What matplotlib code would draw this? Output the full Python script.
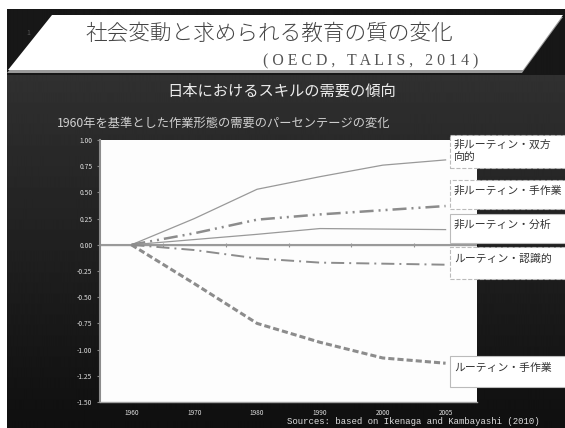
import matplotlib
matplotlib.use("Agg")
import matplotlib.pyplot as plt
import numpy as np
from matplotlib.patches import Polygon, Rectangle

plt.rcParams['font.family'] = ['Noto Sans CJK JP', 'DejaVu Sans']

# ---- data ----
years = ['1960', '1970', '1980', '1990', '2000', '2005']
series_names = ['非ルーティン・双方\n向的', '非ルーティン・手作業', '非ルーティン・分析',
                'ルーティン・認識的', 'ルーティン・手作業']
nr_interactive = [0.0, 0.25, 0.53, 0.65, 0.76, 0.81]
nr_manual = [0.0, 0.11, 0.24, 0.29, 0.33, 0.37]
nr_analytic = [0.0, 0.05, 0.10, 0.155, 0.15, 0.145]
r_cognitive = [0.0, -0.05, -0.13, -0.17, -0.18, -0.19]
r_manual = [0.0, -0.37, -0.75, -0.93, -1.08, -1.13]
yticks = [1.00, 0.75, 0.50, 0.25, 0.00, -0.25, -0.50, -0.75, -1.00, -1.25, -1.50]

title = '社会変動と求められる教育の質の変化'
title_src = '( O E C D ,   T A L I S ,   2 0 1 4 )'
subtitle = '日本におけるスキルの需要の傾向'
axis_note = '1960年を基準とした作業形態の需要のパーセンテージの変化'
source = 'Sources: based on Ikenaga and Kambayashi (2010)'

W, H = 565, 428
fig = plt.figure(figsize=(W / 100, H / 100), dpi=100)

def fx(px):
    return px / W

def fy(py):
    return 1 - py / H

# ---- background ----
bg = fig.add_axes([0, 0, 1, 1], zorder=-10)
bg.set_axis_off()
rows = np.linspace(0, 1, H)
col = np.where(rows * H < 75, 0.09,
               0.19 - (rows * H - 75) / (H - 75) * 0.13)
img = np.repeat(col[:, None], 10, axis=1)
bg.imshow(img, cmap='gray', vmin=0, vmax=1, aspect='auto',
          extent=[0, 1, 0, 1], origin='upper')
bg.set_xlim(0, 1)
bg.set_ylim(0, 1)
# white margins
bg.add_patch(Rectangle((0, fy(9)), 1, 1, facecolor='white', edgecolor='none'))
bg.add_patch(Rectangle((0, 0), fx(7), 1, facecolor='white', edgecolor='none'))
# banner shadow and banner
shadow = [(fx(52), fy(17)), (fx(563), fy(17)), (fx(522), fy(73)), (fx(7), fy(73))]
bg.add_patch(Polygon(shadow, closed=True, facecolor='#9a9a9a', edgecolor='none'))
banner = [(fx(52), fy(15)), (fx(563), fy(15)), (fx(523), fy(70)), (fx(8), fy(70))]
bg.add_patch(Polygon(banner, closed=True, facecolor='white', edgecolor='none'))

fig.text(fx(28), fy(33), '1', fontsize=5, color='#555555', ha='center', va='center')
fig.text(fx(269), fy(34), title, fontsize=15.6, color='#444444',
         ha='center', va='center', fontweight='light')
fig.text(fx(371), fy(61), title_src, fontsize=11.4, color='#555555',
         ha='center', va='center', family=['Liberation Serif', 'DejaVu Serif'])
fig.text(fx(282), fy(91), subtitle, fontsize=11, color='#ececec',
         ha='center', va='center')
fig.text(fx(57), fy(123), axis_note, fontsize=8.8, color='#cfcfcf',
         ha='left', va='center')
fig.text(fx(287), fy(421), source, fontsize=6.5, color='#dddddd',
         ha='left', va='center', family=['Liberation Mono', 'DejaVu Sans Mono'])

# ---- plot ----
ax = fig.add_axes([fx(100), fy(402), fx(477) - fx(100), fy(140) - fy(402)])
ax.set_facecolor('#fdfdfd')
x = np.arange(len(years))
ax.axhline(0, color='#9a9a9a', lw=1.5, zorder=1)
gray = '#8c8c8c'
ax.plot(x, nr_interactive, color='#999999', lw=0.9, zorder=3)
ax.plot(x, nr_manual, color=gray, lw=1.8, dashes=(5.6, 2, 0.8, 2, 0.8, 2), zorder=3)
ax.plot(x, nr_analytic, color='#999999', lw=0.9, zorder=3)
ax.plot(x, r_cognitive, color=gray, lw=1.4, dashes=(6.7, 2.6, 1, 2.6), zorder=3)
ax.plot(x, r_manual, color=gray, lw=2.2, dashes=(2, 1), zorder=3)

ax.set_xlim(-0.5, len(years) - 0.5)
ax.set_ylim(-1.5, 1.0)
ax.set_yticks(yticks)
ax.set_yticklabels(['%.2f' % v for v in yticks])
ax.set_xticks(x)
ax.set_xticklabels(years)
ax.tick_params(axis='y', length=2.5, width=0.8, color='#888888', pad=3,
               labelsize=4.8, labelcolor='#e0e0e0')
ax.tick_params(axis='x', length=0, pad=5, labelsize=4.6, labelcolor='#e0e0e0')
for s in ['top', 'right']:
    ax.spines[s].set_visible(False)
ax.spines['left'].set_color('#8c8c8c')
ax.spines['left'].set_linewidth(1.5)
ax.spines['bottom'].set_color('#a0a0a0')
ax.spines['bottom'].set_linewidth(1.0)

# boundary ticks on the zero line
ymin, ymax = ax.get_ylim()
sec = ax.secondary_xaxis((0 - ymin) / (ymax - ymin))
sec.set_xticks(x[:-1] + 0.5)
sec.set_xticklabels([])
sec.tick_params(length=3, direction='inout', color='#999999', width=0.8)
sec.spines['bottom'].set_visible(False)

# ---- label boxes ----
boxes = [(135, 168, [145, 158], '--'), (180, 209, [191], '--'), (214, 243, [225], '-'),
         (247, 279, [259], '--'), (356, 387, [368], '-')]
for name, (y0, y1, ty, ls) in zip(series_names, boxes):
    fig.patches.append(Rectangle((fx(450), fy(y1)), fx(130), fy(y0) - fy(y1),
                                 transform=fig.transFigure, facecolor='white',
                                 edgecolor='#bbbbbb', lw=0.8, linestyle=ls,
                                 zorder=5))
    for line, yy in zip(name.split('\n'), ty):
        fig.text(fx(454), fy(yy), line, fontsize=7.8, color='#333333',
                 ha='left', va='center', zorder=6)

fig.savefig('out.png', dpi=100)
